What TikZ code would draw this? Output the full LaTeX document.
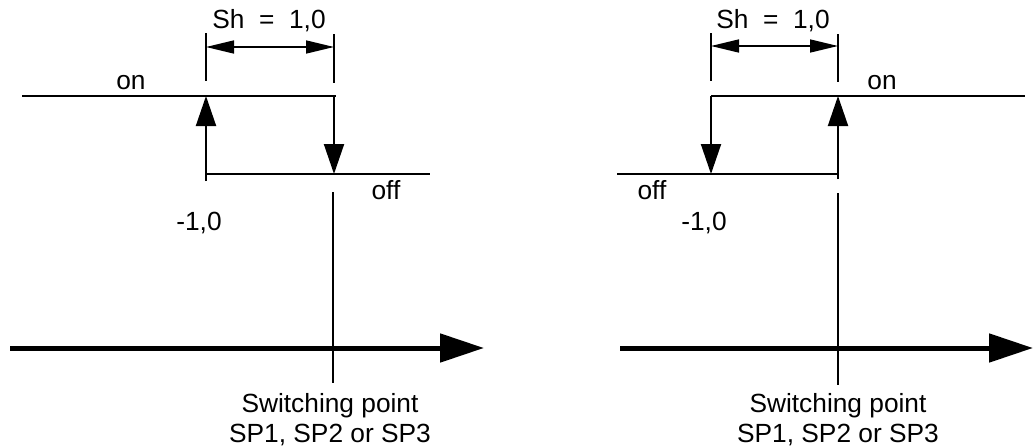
\documentclass[tikz,border=0pt]{standalone}
\usepackage{fontspec}
\setmainfont{Liberation Sans}
\usetikzlibrary{arrows.meta}
\begin{document}
\begin{tikzpicture}[x=1pt,y=-1pt,
  lbl/.style={anchor=base,inner sep=0pt,font=\fontsize{26.3}{30}\selectfont},
  thin/.style={line width=2pt},
  level/.style={line width=2.6pt},
  tick/.style={line width=2pt},
  flow/.style={line width=2pt,-{Triangle[length=30pt,width=20pt]}},
  dim/.style={line width=1.6pt,{Triangle[length=28pt,width=13pt]}-{Triangle[length=28pt,width=13pt]}},
  axis/.style={line width=5pt,-{Triangle[length=44pt,width=28pt]}}]
\useasboundingbox (0,0) rectangle (1033,447);
% ---------- left panel ----------
\coordinate (LtA1) at (206,33); \coordinate (LtA2) at (206,81);
\coordinate (LtB1) at (334,34); \coordinate (LtB2) at (334,83);
\coordinate (LdA) at (206,47); \coordinate (LdB) at (334,47);
\coordinate (LonS) at (22,96); \coordinate (LonE) at (336,96);
\coordinate (LupS) at (206,181); \coordinate (LupE) at (206,96);
\coordinate (LdnS) at (334,96); \coordinate (LdnE) at (334,174);
\coordinate (LoffS) at (206,174); \coordinate (LoffE) at (430,174);
\coordinate (LvS) at (333,192); \coordinate (LvE) at (333,383);
\coordinate (LaxS) at (10,348); \coordinate (LaxE) at (484,348);
\draw[tick] (LtA1) -- (LtA2);
\draw[tick] (LtB1) -- (LtB2);
\draw[dim] (LdA) -- (LdB);
\draw[level] (LonS) -- (LonE);
\draw[level] (LoffS) -- (LoffE);
\draw[flow] (LupS) -- (LupE);
\draw[flow] (LdnS) -- (LdnE);
\draw[thin] (LvS) -- (LvE);
\draw[axis] (LaxS) -- (LaxE);
\node[lbl] (Lsh) at (269,28) {Sh\ \ =\ \ 1,0};
\node[lbl] (Lon) at (131,89) {on};
\node[lbl] (Loff) at (386,199) {off};
\node[lbl] (Lneg) at (199,230) {-1,0};
\node[lbl] (Lsw1) at (330,412) {Switching point};
\node[lbl] (Lsw2) at (330,442) {SP1, SP2 or SP3};
% ---------- right panel ----------
\coordinate (RtA1) at (711,33); \coordinate (RtA2) at (711,81);
\coordinate (RtB1) at (838,34); \coordinate (RtB2) at (838,82);
\coordinate (RdA) at (711,46); \coordinate (RdB) at (838,46);
\coordinate (RonS) at (711,96); \coordinate (RonE) at (1025,96);
\coordinate (RdnS) at (711,96); \coordinate (RdnE) at (711,174);
\coordinate (RupS) at (838,179); \coordinate (RupE) at (838,96);
\coordinate (RoffS) at (617,174); \coordinate (RoffE) at (838,174);
\coordinate (RvS) at (838,193); \coordinate (RvE) at (838,385);
\coordinate (RaxS) at (620,348); \coordinate (RaxE) at (1033,348);
\draw[tick] (RtA1) -- (RtA2);
\draw[tick] (RtB1) -- (RtB2);
\draw[dim] (RdA) -- (RdB);
\draw[level] (RonS) -- (RonE);
\draw[level] (RoffS) -- (RoffE);
\draw[flow] (RdnS) -- (RdnE);
\draw[flow] (RupS) -- (RupE);
\draw[thin] (RvS) -- (RvE);
\draw[axis] (RaxS) -- (RaxE);
\node[lbl] (Rsh) at (773,28) {Sh\ \ =\ \ 1,0};
\node[lbl] (Ron) at (882,89) {on};
\node[lbl] (Roff) at (652,199) {off};
\node[lbl] (Rneg) at (704,230) {-1,0};
\node[lbl] (Rsw1) at (838,412) {Switching point};
\node[lbl] (Rsw2) at (838,442) {SP1, SP2 or SP3};
\end{tikzpicture}
\end{document}
